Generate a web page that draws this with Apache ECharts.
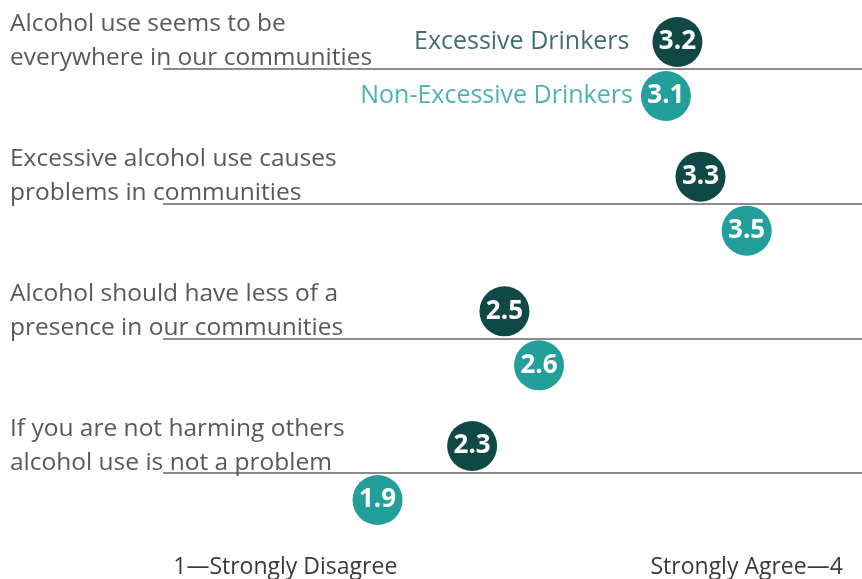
<!DOCTYPE html>
<html>
<head>
<meta charset="utf-8">
<script src="https://cdn.jsdelivr.net/npm/echarts@6/dist/echarts.min.js"></script>
<style>
html,body{margin:0;padding:0;background:#fff;}
#chart{width:862px;height:579px;}
</style>
</head>
<body>
<div id="chart"></div>
<script>
// ---- data ----
const questions = [
  "Alcohol use seems to be\neverywhere in our communities",
  "Excessive alcohol use causes\nproblems in communities",
  "Alcohol should have less of a\npresence in our communities",
  "If you are not harming others\nalcohol use is not a problem"
];
const rowPos = [4, 3, 2, 1];
const excessiveValues = [3.20, 3.30, 2.45, 2.31];
const excessiveLabels = ["3.2", "3.3", "2.5", "2.3"];
const nonExcessiveValues = [3.15, 3.50, 2.60, 1.90];
const nonExcessiveLabels = ["3.1", "3.5", "2.6", "1.9"];
const scaleTicks = [1.5, 3.5];
const scaleTickLabels = {"1.5": "1\u2014Strongly Disagree", "3.5": "Strongly Agree\u20144"};
const seriesNames = ["Excessive Drinkers", "Non-Excessive Drinkers"];

const darkColor = "#104845";
const tealColor = "#239f9b";
const textFont = "Open Sans";

const chart = echarts.init(document.getElementById('chart'), null, {renderer: 'canvas'});

function pts(vals) { return vals.map((v, i) => [v, rowPos[i]]); }

const option = {
  animation: false,
  backgroundColor: '#fff',
  grid: [
    {left: 163, right: 0, top: 69, bottom: 105},
    {left: 163, right: 0, top: 75, bottom: 99}
  ],
  xAxis: [{
    type: 'value', min: 0.97, max: 4, gridIndex: 0,
    axisLine: {show: false}, axisTick: {show: false}, splitLine: {show: false},
    axisLabel: {
      customValues: scaleTicks,
      margin: 83,
      fontFamily: textFont, fontSize: 23, color: '#3a3a3a',
      formatter: v => scaleTickLabels[String(v)] || ''
    }
  }, {
    type: 'value', min: 0.97, max: 4, gridIndex: 1, show: false
  }],
  yAxis: [{
    type: 'value', min: 1, max: 4, interval: 1, gridIndex: 0,
    axisLine: {show: false}, axisTick: {show: false}, axisLabel: {show: false},
    splitLine: {show: true, lineStyle: {color: '#8c8c8c', width: 2}}
  }, {
    type: 'value', min: 1, max: 4, interval: 1, gridIndex: 1,
    axisLine: {show: false}, axisTick: {show: false}, splitLine: {show: false},
    axisLabel: {
      margin: 153, align: 'left', verticalAlign: 'bottom',
      fontFamily: textFont, fontSize: 24.5, lineHeight: 34, color: '#595959',
      formatter: v => questions[rowPos.indexOf(v)] || ''
    }
  }],
  series: [
    {
      name: seriesNames[0], type: 'scatter', clip: false, z: 3,
      symbol: 'circle', symbolSize: 50, symbolOffset: [0, -27],
      itemStyle: {color: darkColor, opacity: 1},
      data: pts(excessiveValues),
      label: {show: true, position: 'inside', color: '#fff', fontFamily: textFont,
        fontWeight: 'bold', fontSize: 26,
        formatter: p => excessiveLabels[p.dataIndex]}
    },
    {
      name: seriesNames[1], type: 'scatter', clip: false, z: 3,
      symbol: 'circle', symbolSize: 50, symbolOffset: [0, 27],
      itemStyle: {color: tealColor, opacity: 1},
      data: pts(nonExcessiveValues),
      label: {show: true, position: 'inside', color: '#fff', fontFamily: textFont,
        fontWeight: 'bold', fontSize: 26,
        formatter: p => nonExcessiveLabels[p.dataIndex]}
    },
    {
      name: seriesNames[0] + ' label', type: 'scatter', clip: false, silent: true,
      symbol: 'circle', symbolSize: 50, symbolOffset: [0, -27],
      itemStyle: {color: 'rgba(0,0,0,0)'},
      data: pts(excessiveValues.slice(0, 1)),
      label: {show: true, position: 'left', distance: 23, color: darkColor,
        fontFamily: textFont, fontSize: 25, formatter: seriesNames[0]}
    },
    {
      name: seriesNames[1] + ' label', type: 'scatter', clip: false, silent: true,
      symbol: 'circle', symbolSize: 50, symbolOffset: [0, 27],
      itemStyle: {color: 'rgba(0,0,0,0)'},
      data: pts(nonExcessiveValues.slice(0, 1)),
      label: {show: true, position: 'left', distance: 8, color: tealColor,
        fontFamily: textFont, fontSize: 25, formatter: seriesNames[1]}
    }
  ]
};
chart.setOption(option);
</script>
</body>
</html>
